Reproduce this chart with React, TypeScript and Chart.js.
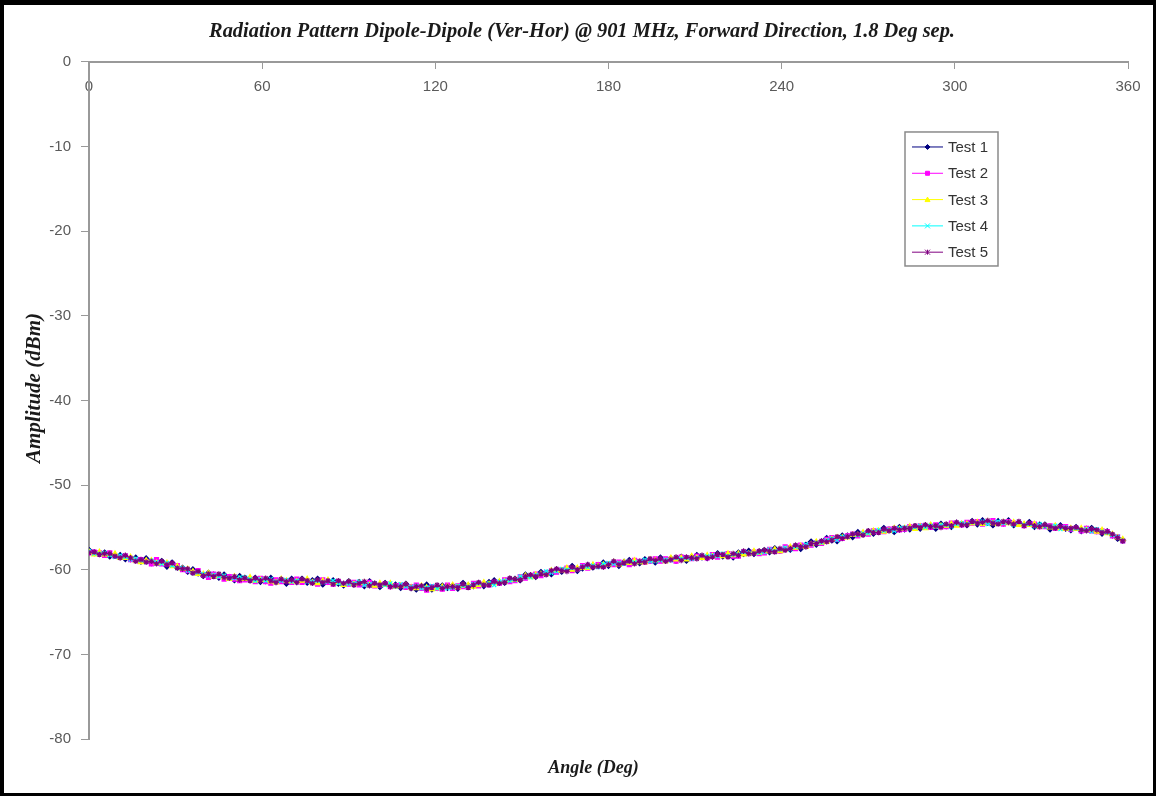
import React, { useEffect, useRef } from 'react';
import { Chart, registerables } from 'chart.js';

Chart.register(...registerables);

const TITLE = 'Radiation Pattern Dipole-Dipole (Ver-Hor) @ 901 MHz, Forward Direction, 1.8 Deg sep.';
const X_TITLE = 'Angle (Deg)';
const Y_TITLE = 'Amplitude (dBm)';

const ANGLE_STEP = 1.8;
const ANGLES = Array.from({ length: 200 }, (_, i) => Math.round(i * ANGLE_STEP * 10) / 10);

const X_TICKS = [0, 60, 120, 180, 240, 300, 360];
const Y_TICKS = [0, -10, -20, -30, -40, -50, -60, -70, -80];

const SERIES_NAMES = ['Test 1', 'Test 2', 'Test 3', 'Test 4', 'Test 5'];
const SERIES_COLORS = ['#000080', '#FF00FF', '#FFFF00', '#00FFFF', '#800080'];
const SERIES_MARKERS = ['rectRot', 'rect', 'triangle', 'crossRot', 'star'];

const TEST1 = [
  -57.7,-58.0,-58.1,-58.0,-58.4,-58.3,-58.3,-58.7,-58.7,-58.6,
  -59.0,-58.7,-59.2,-59.0,-59.0,-59.6,-59.2,-59.7,-59.8,-60.2,
  -60.0,-60.4,-60.7,-60.4,-60.6,-60.9,-60.6,-60.9,-61.2,-60.8,
  -61.0,-61.2,-61.0,-61.4,-61.3,-61.0,-61.4,-61.2,-61.6,-61.1,
  -61.4,-61.1,-61.5,-61.3,-61.1,-61.7,-61.4,-61.3,-61.6,-61.8,
  -61.4,-61.7,-61.5,-61.9,-61.4,-61.7,-62.0,-61.6,-61.9,-61.8,
  -62.1,-61.7,-62.1,-62.3,-62.0,-61.8,-62.3,-62.1,-61.9,-62.1,
  -61.9,-62.2,-61.6,-61.9,-61.9,-61.6,-61.9,-61.5,-61.3,-61.5,
  -61.5,-61.1,-61.1,-61.2,-60.6,-60.7,-60.8,-60.3,-60.4,-60.5,
  -60.0,-60.2,-59.9,-59.6,-60.1,-59.8,-59.5,-59.7,-59.5,-59.2,
  -59.5,-59.1,-59.5,-59.1,-58.9,-59.1,-59.2,-58.8,-58.9,-59.1,
  -58.6,-58.9,-58.7,-58.9,-58.5,-58.9,-58.5,-58.3,-58.5,-58.6,
  -58.4,-58.1,-58.4,-58.2,-58.5,-58.0,-58.1,-57.8,-58.1,-57.9,
  -57.7,-57.9,-57.5,-57.7,-57.5,-57.6,-57.2,-57.5,-57.1,-56.7,
  -57.0,-56.7,-56.3,-56.5,-56.6,-56.0,-56.0,-56.1,-55.6,-55.8,
  -55.5,-55.7,-55.5,-55.1,-55.3,-55.5,-55.0,-55.2,-55.2,-54.9,
  -55.1,-54.8,-54.8,-55.1,-54.6,-54.8,-54.9,-54.5,-54.6,-54.7,
  -54.3,-54.6,-54.2,-54.4,-54.7,-54.3,-54.5,-54.2,-54.7,-54.5,
  -54.7,-54.4,-54.9,-54.7,-54.7,-55.2,-54.9,-54.8,-55.1,-55.3,
  -55.0,-55.4,-55.2,-55.1,-55.4,-55.7,-55.5,-55.9,-56.3,-56.5,
];

const TEST2 = [
  -58.0,-57.9,-58.0,-58.3,-58.0,-58.4,-58.5,-58.4,-58.8,-58.8,
  -58.8,-59.0,-59.3,-58.8,-59.3,-59.3,-59.5,-59.5,-60.0,-60.1,
  -60.3,-60.1,-60.6,-60.9,-60.5,-60.8,-61.1,-60.8,-61.1,-61.3,
  -61.2,-61.1,-61.4,-61.0,-61.4,-61.6,-61.2,-61.4,-61.3,-61.5,
  -61.1,-61.5,-61.3,-61.5,-61.7,-61.2,-61.5,-61.7,-61.4,-61.7,
  -61.7,-61.5,-61.8,-61.7,-61.5,-61.9,-61.8,-61.7,-62.0,-61.9,
  -61.8,-62.1,-62.0,-61.8,-62.2,-62.4,-62.0,-62.2,-62.3,-61.8,
  -62.2,-61.9,-62.0,-62.1,-61.6,-61.9,-61.7,-61.8,-61.5,-61.6,
  -61.2,-61.4,-61.3,-60.8,-61.0,-60.8,-60.5,-60.7,-60.4,-60.2,
  -60.3,-60.0,-59.8,-60.1,-59.9,-59.5,-59.8,-59.6,-59.4,-59.6,
  -59.3,-59.4,-59.1,-59.2,-59.4,-58.9,-59.0,-59.1,-59.0,-58.7,
  -59.0,-58.7,-58.8,-59.0,-58.5,-58.6,-58.7,-58.4,-58.5,-58.6,
  -58.2,-58.5,-58.3,-58.1,-58.4,-58.4,-57.9,-58.1,-57.9,-58.1,
  -58.0,-57.6,-57.8,-57.8,-57.3,-57.4,-57.5,-57.1,-57.2,-57.1,
  -56.8,-56.9,-56.4,-56.2,-56.4,-56.3,-56.0,-55.8,-56.0,-55.7,
  -55.8,-55.4,-55.5,-55.5,-55.2,-55.2,-55.3,-55.2,-54.9,-55.1,
  -54.8,-55.0,-55.0,-54.7,-54.9,-54.9,-54.5,-54.6,-54.7,-54.4,
  -54.5,-54.3,-54.6,-54.4,-54.2,-54.5,-54.6,-54.3,-54.5,-54.6,
  -54.8,-54.6,-54.6,-54.9,-54.9,-54.8,-55.1,-55.0,-54.9,-55.2,
  -55.1,-55.4,-55.1,-55.4,-55.5,-55.4,-55.5,-56.0,-56.1,-56.6,
];

const TEST3 = [
  -57.9,-58.2,-57.9,-58.2,-58.2,-58.1,-58.6,-58.6,-58.5,-58.9,
  -59.1,-58.9,-58.9,-59.2,-59.2,-59.2,-59.6,-59.6,-59.9,-59.9,
  -60.2,-60.5,-60.5,-60.4,-60.8,-60.7,-60.9,-61.1,-60.8,-61.1,
  -61.1,-60.9,-61.3,-61.2,-61.2,-61.4,-61.5,-61.1,-61.3,-61.4,
  -61.4,-61.3,-61.1,-61.5,-61.6,-61.3,-61.2,-61.6,-61.5,-61.8,
  -61.5,-61.7,-61.6,-61.5,-61.8,-61.9,-61.6,-61.8,-61.6,-62.0,
  -61.9,-61.8,-62.1,-62.2,-61.9,-62.1,-62.3,-62.2,-62.0,-62.0,
  -61.8,-62.1,-61.9,-61.8,-62.0,-61.8,-61.5,-61.7,-61.6,-61.4,
  -61.4,-61.2,-61.2,-61.0,-60.7,-60.9,-60.6,-60.5,-60.5,-60.1,
  -60.1,-60.1,-59.8,-60.0,-59.8,-59.8,-59.8,-59.4,-59.6,-59.4,
  -59.4,-59.1,-59.4,-59.1,-59.2,-58.9,-59.1,-59.1,-58.8,-58.9,
  -58.8,-59.0,-58.6,-58.8,-58.6,-58.8,-58.4,-58.6,-58.6,-58.3,
  -58.4,-58.3,-58.4,-58.1,-58.3,-58.1,-58.2,-58.1,-57.8,-58.0,
  -57.8,-57.8,-57.6,-57.8,-57.6,-57.3,-57.4,-57.2,-57.3,-57.0,
  -56.7,-56.8,-56.7,-56.4,-56.2,-56.2,-56.2,-55.9,-55.9,-55.6,
  -55.7,-55.4,-55.4,-55.5,-55.4,-55.1,-55.2,-55.1,-54.9,-55.2,
  -54.9,-55.1,-54.7,-54.9,-54.8,-54.8,-54.6,-54.8,-54.6,-54.6,
  -54.5,-54.4,-54.6,-54.3,-54.5,-54.6,-54.4,-54.5,-54.4,-54.7,
  -54.6,-54.7,-54.6,-54.9,-54.8,-55.0,-54.8,-55.1,-55.2,-55.1,
  -55.2,-55.1,-55.3,-55.3,-55.5,-55.3,-55.7,-55.8,-56.2,-56.4,
];

const TEST4 = [
  -57.8,-58.1,-58.1,-58.0,-58.3,-58.5,-58.3,-58.5,-58.8,-58.7,
  -58.9,-59.1,-58.9,-59.1,-59.3,-59.2,-59.5,-59.8,-59.8,-60.1,
  -60.4,-60.3,-60.5,-60.7,-60.6,-60.8,-60.7,-61.0,-61.0,-60.9,
  -60.9,-61.1,-61.3,-61.1,-61.3,-61.1,-61.4,-61.3,-61.2,-61.4,
  -61.3,-61.1,-61.4,-61.4,-61.3,-61.5,-61.4,-61.3,-61.6,-61.6,
  -61.7,-61.6,-61.4,-61.8,-61.7,-61.6,-61.8,-61.8,-61.6,-62.0,
  -61.7,-62.0,-62.0,-61.9,-62.2,-62.1,-61.9,-62.2,-62.1,-62.2,
  -62.1,-61.9,-61.9,-62.0,-61.7,-61.6,-61.8,-61.6,-61.8,-61.4,
  -61.3,-61.3,-61.2,-60.8,-60.9,-60.9,-60.6,-60.5,-60.2,-60.4,
  -60.2,-59.9,-60.0,-59.8,-60.0,-59.6,-59.7,-59.5,-59.7,-59.3,
  -59.2,-59.3,-59.2,-59.3,-59.0,-59.1,-59.0,-58.8,-59.0,-59.0,
  -58.9,-58.8,-58.9,-58.6,-58.7,-58.6,-58.7,-58.6,-58.3,-58.4,
  -58.3,-58.4,-58.1,-58.4,-58.2,-58.2,-57.9,-58.0,-58.1,-58.0,
  -57.9,-57.6,-57.8,-57.6,-57.4,-57.6,-57.3,-57.3,-57.0,-57.0,
  -56.8,-56.8,-56.5,-56.3,-56.5,-56.1,-56.1,-55.8,-55.9,-55.7,
  -55.7,-55.5,-55.3,-55.4,-55.3,-55.4,-55.1,-55.0,-55.1,-55.0,
  -54.8,-55.0,-54.8,-54.9,-54.7,-54.7,-54.9,-54.6,-54.5,-54.6,
  -54.4,-54.5,-54.3,-54.6,-54.4,-54.3,-54.5,-54.4,-54.7,-54.4,
  -54.7,-54.6,-54.9,-54.6,-54.9,-54.9,-54.8,-55.2,-55.0,-55.2,
  -55.1,-55.3,-55.2,-55.5,-55.2,-55.5,-55.6,-55.9,-56.1,-56.6,
];

const TEST5 = [
  -58.0,-57.9,-58.2,-58.1,-58.1,-58.4,-58.6,-58.3,-58.6,-59.0,
  -58.8,-59.1,-59.0,-59.3,-59.0,-59.4,-59.2,-59.8,-59.9,-59.9,
  -60.4,-60.2,-60.7,-60.5,-60.8,-60.5,-60.9,-61.0,-60.8,-61.2,
  -61.0,-61.3,-61.0,-61.3,-61.0,-61.3,-61.5,-61.1,-61.4,-61.2,
  -61.5,-61.1,-61.3,-61.6,-61.2,-61.5,-61.3,-61.7,-61.3,-61.6,
  -61.4,-61.8,-61.6,-61.4,-61.9,-61.6,-61.8,-61.6,-62.0,-61.9,
  -62.0,-61.7,-62.2,-62.0,-61.9,-62.3,-62.1,-61.8,-62.2,-62.0,
  -62.0,-62.1,-61.7,-62.1,-61.8,-61.5,-61.8,-61.8,-61.4,-61.6,
  -61.5,-61.0,-61.1,-61.2,-60.8,-60.6,-60.8,-60.5,-60.6,-60.1,
  -59.9,-60.1,-60.2,-59.7,-60.0,-59.7,-59.4,-59.7,-59.6,-59.7,
  -59.4,-59.0,-59.4,-59.2,-59.0,-59.3,-59.0,-59.1,-58.7,-58.9,
  -58.7,-59.0,-58.8,-58.5,-58.9,-58.5,-58.6,-58.7,-58.3,-58.6,
  -58.5,-58.2,-58.2,-58.5,-58.1,-58.3,-57.8,-58.1,-58.1,-57.8,
  -57.7,-57.8,-57.9,-57.5,-57.7,-57.5,-57.1,-57.3,-57.3,-56.9,
  -56.9,-56.6,-56.7,-56.5,-56.1,-56.3,-56.1,-55.8,-55.8,-55.9,
  -55.4,-55.6,-55.6,-55.2,-55.4,-55.1,-55.3,-55.1,-55.1,-54.8,
  -55.0,-54.7,-54.9,-54.8,-55.0,-54.6,-54.8,-54.4,-54.7,-54.7,
  -54.3,-54.5,-54.4,-54.2,-54.5,-54.6,-54.3,-54.4,-54.6,-54.3,
  -54.8,-54.5,-54.8,-54.9,-54.7,-54.9,-55.1,-54.9,-55.1,-55.1,
  -55.0,-55.3,-55.4,-55.2,-55.3,-55.6,-55.5,-55.8,-56.2,-56.6,
];

const SERIES_VALUES = [TEST1, TEST2, TEST3, TEST4, TEST5];

function drawMarker(ctx: CanvasRenderingContext2D, style: string, x: number, y: number, r: number, color: string) {
  ctx.save();
  ctx.fillStyle = color;
  ctx.strokeStyle = color;
  ctx.lineWidth = 1;
  ctx.beginPath();
  if (style === 'rectRot') {
    ctx.moveTo(x, y - r); ctx.lineTo(x + r, y); ctx.lineTo(x, y + r); ctx.lineTo(x - r, y); ctx.closePath();
    ctx.fill(); ctx.stroke();
  } else if (style === 'rect') {
    ctx.rect(x - r * 0.8, y - r * 0.8, r * 1.6, r * 1.6);
    ctx.fill(); ctx.stroke();
  } else if (style === 'triangle') {
    ctx.moveTo(x, y - r); ctx.lineTo(x + r, y + r * 0.8); ctx.lineTo(x - r, y + r * 0.8); ctx.closePath();
    ctx.fill(); ctx.stroke();
  } else if (style === 'crossRot') {
    ctx.moveTo(x - r, y - r); ctx.lineTo(x + r, y + r); ctx.moveTo(x + r, y - r); ctx.lineTo(x - r, y + r);
    ctx.stroke();
  } else {
    ctx.moveTo(x - r, y - r); ctx.lineTo(x + r, y + r); ctx.moveTo(x + r, y - r); ctx.lineTo(x - r, y + r);
    ctx.moveTo(x, y - r); ctx.lineTo(x, y + r);
    ctx.stroke();
  }
  ctx.restore();
}

const decorPlugin = {
  id: 'decor',
  afterDraw(chart: any) {
    const { ctx, chartArea } = chart;
    ctx.save();
    // axis titles
    ctx.fillStyle = '#1a1a1a';
    ctx.textAlign = 'center';
    ctx.textBaseline = 'middle';
    ctx.font = 'italic bold 18px "Liberation Serif"';
    ctx.fillText(X_TITLE, (chartArea.left + chartArea.right) / 2 - 15, chartArea.bottom + 29);
    ctx.save();
    ctx.translate(chartArea.left - 54, chartArea.top + 326);
    ctx.rotate(-Math.PI / 2);
    ctx.font = 'italic bold 21px "Liberation Serif"';
    ctx.fillText(Y_TITLE, 0, 0);
    ctx.restore();

    // legend
    const bx = chartArea.left + 816;
    const by = chartArea.top + 70;
    const bw = 93;
    const bh = 134;
    ctx.fillStyle = '#ffffff';
    ctx.fillRect(bx, by, bw, bh);
    ctx.strokeStyle = '#8a8a8a';
    ctx.lineWidth = 1.5;
    ctx.strokeRect(bx, by, bw, bh);
    chart.data.datasets.forEach((ds: any, i: number) => {
      const y = by + 15 + i * 26.3;
      ctx.strokeStyle = ds.borderColor;
      ctx.lineWidth = 1;
      ctx.beginPath();
      ctx.moveTo(bx + 7, y);
      ctx.lineTo(bx + 38, y);
      ctx.stroke();
      drawMarker(ctx, ds.pointStyle, bx + 22.5, y, 2.5, ds.borderColor);
      ctx.fillStyle = '#333333';
      ctx.font = '15px "Liberation Sans"';
      ctx.textAlign = 'left';
      ctx.textBaseline = 'middle';
      ctx.fillText(ds.label, bx + 43, y + 1);
    });
    ctx.restore();
  },
};

export default function App() {
  const canvasRef = useRef<HTMLCanvasElement | null>(null);

  useEffect(() => {
    if (!canvasRef.current) return;
    const datasets = SERIES_NAMES.map((name, i) => ({
      label: name,
      data: ANGLES.map((a, j) => ({ x: a, y: SERIES_VALUES[i][j] })),
      borderColor: SERIES_COLORS[i],
      backgroundColor: SERIES_COLORS[i],
      pointBackgroundColor: SERIES_COLORS[i],
      pointBorderColor: SERIES_COLORS[i],
      pointStyle: SERIES_MARKERS[i],
      pointRadius: 2.8,
      pointBorderWidth: 1.2,
      borderWidth: 1,
      tension: 0,
      fill: false,
      order: SERIES_NAMES.length - 1 - i,
    }));

    const chart = new Chart(canvasRef.current, {
      type: 'line',
      data: { datasets },
      plugins: [decorPlugin],
      options: {
        animation: false,
        responsive: false,
        devicePixelRatio: 1,
        events: [],
        layout: { padding: { top: 0, left: 32, right: 25, bottom: 54 } },
        plugins: {
          legend: { display: false },
          tooltip: { enabled: false },
          title: {
            display: true,
            text: TITLE,
            color: '#1a1a1a',
            font: { family: 'Liberation Serif', size: 20.4, style: 'italic', weight: 'bold' },
            padding: { top: 14, bottom: 18.5 },
          },
        },
        scales: {
          x: {
            type: 'linear',
            position: { y: 0 } as any,
            min: 0,
            max: 360,
            afterBuildTicks: (scale: any) => {
              scale.ticks = X_TICKS.map((v) => ({ value: v }));
            },
            afterFit: (scale: any) => {
              scale.height = 0;
            },
            grid: { drawOnChartArea: false, drawTicks: true, tickLength: 6, color: '#999999', lineWidth: 1 },
            border: { display: true, color: '#999999', width: 2 },
            ticks: {
              color: '#5a5a5a',
              font: { family: 'Liberation Sans', size: 15 },
              padding: 10,
              maxRotation: 0,
              autoSkip: false,
            },
          },
          y: {
            type: 'linear',
            position: 'left',
            min: -80,
            max: 0,
            afterBuildTicks: (scale: any) => {
              scale.ticks = Y_TICKS.map((v) => ({ value: v }));
            },
            afterFit: (scale: any) => {
              scale.width = 53;
            },
            grid: { drawOnChartArea: false, drawTicks: true, tickLength: 8, color: '#999999', lineWidth: 1 },
            border: { display: true, color: '#999999', width: 2 },
            ticks: {
              color: '#5a5a5a',
              font: { family: 'Liberation Sans', size: 15 },
              padding: 10,
              autoSkip: false,
            },
          },
        },
      },
    } as any);

    return () => chart.destroy();
  }, []);

  return (
    <div
      style={{
        position: 'absolute',
        left: 0,
        top: 0,
        width: 1156,
        height: 796,
        boxSizing: 'border-box',
        borderStyle: 'solid',
        borderColor: '#000',
        borderWidth: '5px 3px 3px 4px',
        background: '#fff',
      }}
    >
      <canvas ref={canvasRef} width={1149} height={788} style={{ display: 'block', width: 1149, height: 788 }} />
    </div>
  );
}
